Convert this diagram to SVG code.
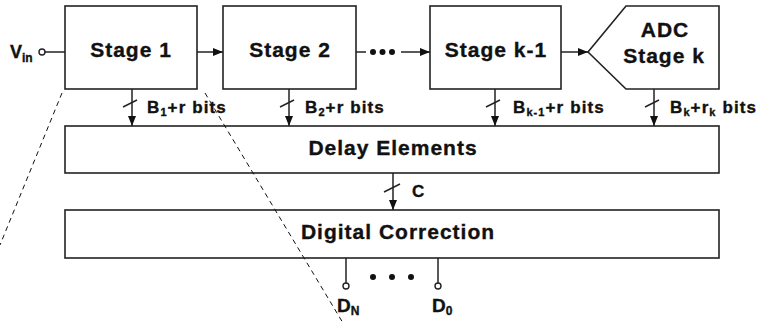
<svg xmlns="http://www.w3.org/2000/svg" width="761" height="323" viewBox="0 0 761 323">
<style>
  .box{fill:#fff;stroke:#222;stroke-width:1.6}
  .ln{fill:none;stroke:#222;stroke-width:1.5}
  .dash{fill:none;stroke:#111;stroke-width:1;stroke-dasharray:5,4}
  .t{font-family:"Liberation Sans",Arial,sans-serif;font-weight:bold;fill:#111;stroke:#111;stroke-width:0.35}
  .big{font-size:21px;letter-spacing:1px;text-anchor:middle}
  .lbl{font-size:17px;letter-spacing:1.1px}
  .term{fill:#fff;stroke:#222;stroke-width:1.4}
  .dot{fill:#111}
</style>
<defs>
  <marker id="ah" viewBox="0 0 10 8" refX="10" refY="4" markerWidth="10" markerHeight="8" markerUnits="userSpaceOnUse" orient="auto">
    <path d="M0,0 L10,4 L0,8 z" fill="#111"/>
  </marker>
</defs>

<g id="vin">
  <text class="t" x="10" y="58" font-size="18">V<tspan font-size="12" dy="4">in</tspan></text>
  <circle class="term" cx="42" cy="52" r="3"/>
</g>

<g id="stage1">
  <rect class="box" x="65" y="6" width="132" height="83"/>
  <text class="t big" x="131" y="57">Stage 1</text>
</g>
<g id="stage2">
  <rect class="box" x="223" y="6" width="133" height="83"/>
  <text class="t big" x="290" y="57">Stage 2</text>
</g>
<g id="stagek1">
  <rect class="box" x="430" y="6" width="131" height="83"/>
  <text class="t big" x="496" y="57">Stage k-1</text>
</g>
<g id="stagek">
  <polygon class="box" points="588,52 626,6 719,6 719,89 626,89"/>
  <text class="t big" x="665" y="37">ADC</text>
  <text class="t big" x="664" y="63">Stage k</text>
</g>
<g id="delay">
  <rect class="box" x="65" y="126" width="654" height="47"/>
  <text class="t big" x="393" y="155">Delay Elements</text>
</g>
<g id="correction">
  <rect class="box" x="65" y="210" width="654" height="48"/>
  <text class="t big" x="398" y="239">Digital Correction</text>
</g>

<g id="connectors">
  <line class="ln" x1="45" y1="52" x2="65" y2="52"/>
  <line class="ln" x1="197" y1="52" x2="223" y2="52" marker-end="url(#ah)"/>
  <line class="ln" x1="356" y1="52" x2="366" y2="52"/>
  <circle class="dot" cx="373" cy="52" r="3"/>
  <circle class="dot" cx="382.5" cy="52" r="3"/>
  <circle class="dot" cx="392" cy="52" r="3"/>
  <line class="ln" x1="401" y1="52" x2="430" y2="52" marker-end="url(#ah)"/>
  <line class="ln" x1="561" y1="52" x2="588" y2="52" marker-end="url(#ah)"/>

  <line class="ln" x1="132" y1="89" x2="132" y2="126" marker-end="url(#ah)"/>
  <line class="ln" x1="123" y1="107" x2="137" y2="100"/>
  <line class="ln" x1="289" y1="89" x2="289" y2="126" marker-end="url(#ah)"/>
  <line class="ln" x1="280" y1="107" x2="294" y2="100"/>
  <line class="ln" x1="495" y1="89" x2="495" y2="126" marker-end="url(#ah)"/>
  <line class="ln" x1="486" y1="107" x2="500" y2="100"/>
  <line class="ln" x1="654" y1="89" x2="654" y2="126" marker-end="url(#ah)"/>
  <line class="ln" x1="645" y1="107" x2="659" y2="100"/>

  <line class="ln" x1="393" y1="173" x2="393" y2="210" marker-end="url(#ah)"/>
  <line class="ln" x1="384" y1="192" x2="400" y2="184"/>

  <line class="ln" x1="346" y1="258" x2="346" y2="283"/>
  <circle class="term" cx="346" cy="286" r="3"/>
  <line class="ln" x1="438" y1="258" x2="438" y2="283"/>
  <circle class="term" cx="438" cy="286" r="3"/>
  <circle class="dot" cx="373" cy="277" r="3"/>
  <circle class="dot" cx="392" cy="277" r="3"/>
  <circle class="dot" cx="411" cy="277" r="3"/>
</g>

<g id="labels">
  <text class="t lbl" x="147" y="113">B<tspan font-size="11" dy="3">1</tspan><tspan dy="-3">+r bits</tspan></text>
  <text class="t lbl" x="305" y="113">B<tspan font-size="11" dy="3">2</tspan><tspan dy="-3">+r bits</tspan></text>
  <text class="t lbl" x="513" y="113">B<tspan font-size="11" dy="3">k-1</tspan><tspan dy="-3">+r bits</tspan></text>
  <text class="t lbl" x="670" y="113">B<tspan font-size="11" dy="3">k</tspan><tspan dy="-3">+r</tspan><tspan font-size="11" dy="3">k</tspan><tspan dy="-3"> bits</tspan></text>
  <text class="t lbl" x="412" y="197">C</text>
  <text class="t" x="337" y="312" font-size="19">D<tspan font-size="12" dy="3">N</tspan></text>
  <text class="t" x="432" y="312" font-size="19">D<tspan font-size="12" dy="3">0</tspan></text>
</g>

<g id="zoom-lines">
  <line class="dash" x1="62" y1="93" x2="0" y2="245"/>
  <line class="dash" x1="205" y1="93" x2="343" y2="323"/>
</g>
</svg>
